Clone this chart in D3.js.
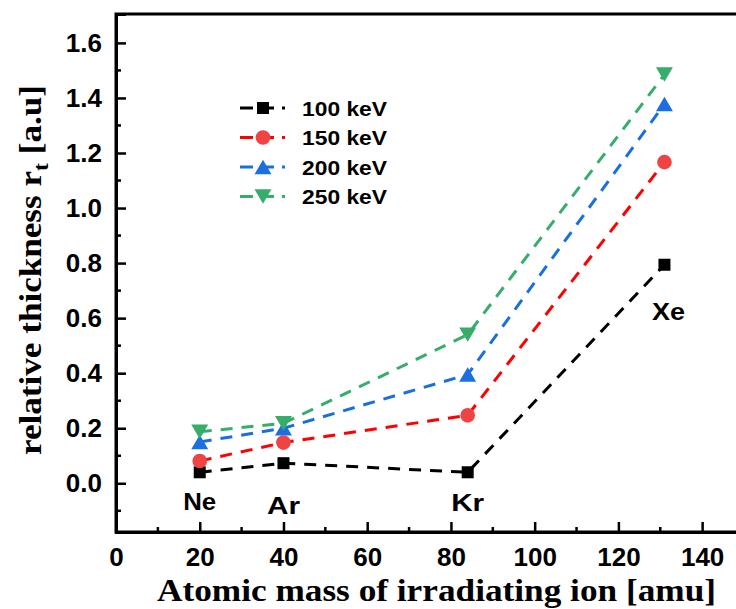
<!DOCTYPE html>
<html>
<head>
<meta charset="utf-8">
<script src="https://cdn.jsdelivr.net/npm/d3@7"></script>
<style>
  body { margin: 0; background: #fff; }
  svg { display: block; }
  .lbl { font-family: 'Liberation Sans', Arial, sans-serif; font-weight: bold; }
</style>
</head>
<body>
<svg id="chart"></svg>
<script>
// data
const ionNames = ['Ne', 'Ar', 'Kr', 'Xe']
const ionMass = [20, 40, 84, 131]
const energies = ['100 keV', '150 keV', '200 keV', '250 keV']
const values100 = [0.04, 0.073, 0.04, 0.794]
const values150 = [0.081, 0.148, 0.247, 1.167]
const values200 = [0.15, 0.2, 0.395, 1.378]
const values250 = [0.187, 0.218, 0.54, 1.485]
const xTicks = [0, 20, 40, 60, 80, 100, 120, 140]
const yTicks = [0.0, 0.2, 0.4, 0.6, 0.8, 1.0, 1.2, 1.4, 1.6]

const width = 736
const height = 609
const margin = {left: 116, top: 14, right: -8, bottom: 77}
const plotW = width - margin.left - margin.right
const plotH = height - margin.top - margin.bottom

// triangle centred on its bounding box (as the reference draws it)
const triUp = {
  draw (context, size) {
    const w = Math.sqrt(size) * 1.5
    const h = w * 0.85
    context.moveTo(0, -h / 2)
    context.lineTo(w / 2, h / 2)
    context.lineTo(-w / 2, h / 2)
    context.closePath()
  }
}

const series = [
  {name: energies[0], values: values100, line: '#000000', fill: '#000000', symbol: d3.symbolSquare, size: 144, rot: 0},
  {name: energies[1], values: values150, line: '#ff0000', fill: '#f04444', symbol: d3.symbolCircle, size: 170, rot: 0},
  {name: energies[2], values: values200, line: '#1a6fdf', fill: '#1b6fe0', symbol: triUp, size: 128, rot: 0},
  {name: energies[3], values: values250, line: '#37ad6b', fill: '#37ad6b', symbol: triUp, size: 128, rot: 180}
]

const svg = d3.select('#chart')
  .attr('width', width)
  .attr('height', height)

const g = svg.append('g')
  .attr('transform', 'translate(' + margin.left + ',' + margin.top + ')')

const x = d3.scaleLinear()
  .domain([0, 150])
  .range([0, plotW])
const y = d3.scaleLinear()
  .domain([-0.177, 1.705])
  .range([plotH, 0])

// frame
g.append('rect')
  .attr('x', 0)
  .attr('y', 0)
  .attr('width', plotW)
  .attr('height', plotH)
  .attr('fill', 'none')
  .attr('stroke', '#000')
  .attr('stroke-width', 3)

// minor ticks
const xMinor = d3.range(10, 150, 20)
const yMinor = d3.range(-0.1, 1.7, 0.2)
g.append('g')
  .selectAll('line')
  .data(xMinor)
  .join('line')
  .attr('x1', (d) => x(d))
  .attr('x2', (d) => x(d))
  .attr('y1', plotH)
  .attr('y2', plotH - 5)
  .attr('stroke', '#000')
  .attr('stroke-width', 2.5)
g.append('g')
  .selectAll('line')
  .data(yMinor)
  .join('line')
  .attr('x1', 0)
  .attr('x2', 5)
  .attr('y1', (d) => y(d))
  .attr('y2', (d) => y(d))
  .attr('stroke', '#000')
  .attr('stroke-width', 2.5)

// axes
const xAxis = d3.axisBottom(x)
  .tickValues(xTicks)
  .tickSize(-10)
  .tickPadding(16)
  .tickFormat(d3.format('d'))
const xg = g.append('g')
  .attr('transform', 'translate(0,' + plotH + ')')
  .call(xAxis)
const yAxis = d3.axisLeft(y)
  .tickValues(yTicks)
  .tickSize(-10)
  .tickPadding(14)
  .tickFormat(d3.format('.1f'))
const yg = g.append('g')
  .call(yAxis)
for (const ax of [xg, yg]) {
  ax.attr('font-size', null).attr('font-family', null)
  ax.select('path.domain').attr('stroke-width', 3)
  ax.selectAll('.tick line').attr('stroke-width', 2.5)
  ax.selectAll('.tick text')
    .attr('class', 'lbl')
    .attr('fill', '#000')
    .style('font-size', '26px')
}

// series lines
const line = d3.line()
  .x((d, i) => x(ionMass[i]))
  .y((d) => y(d))
series.forEach((s) => {
  g.append('path')
    .datum(s.values)
    .attr('d', line)
    .attr('fill', 'none')
    .attr('stroke', s.line)
    .attr('stroke-width', 3)
    .attr('stroke-dasharray', '12,9')
})
series.forEach((s) => {
  g.append('g')
    .selectAll('path')
    .data(s.values)
    .join('path')
    .attr('d', d3.symbol().type(s.symbol).size(s.size))
    .attr('transform', (d, i) => 'translate(' + x(ionMass[i]) + ',' + y(d) + ') rotate(' + s.rot + ')')
    .attr('fill', s.fill)
})

// ion labels
const labelPos = [
  {dx: 0, value: 0, dy: 27},
  {dx: 0, value: 0, dy: 31},
  {dx: 0, value: 0, dy: 28},
  {dx: 4, value: values100[3], dy: 55}
]
g.append('g')
  .selectAll('text')
  .data(ionNames)
  .join('text')
  .attr('class', 'lbl')
  .attr('text-anchor', 'middle')
  .attr('x', (d, i) => x(ionMass[i]) + labelPos[i].dx)
  .attr('y', (d, i) => y(labelPos[i].value) + labelPos[i].dy)
  .style('font-size', '24px')
  .attr('textLength', 33)
  .attr('lengthAdjust', 'spacingAndGlyphs')
  .text((d) => d)

// legend
const legend = g.append('g')
  .attr('transform', 'translate(124,94)')
series.forEach((s, i) => {
  const row = legend.append('g')
    .attr('transform', 'translate(0,' + (i * 29.5) + ')')
  row.append('line')
    .attr('x1', 0)
    .attr('x2', 45)
    .attr('stroke', s.line)
    .attr('stroke-width', 3)
    .attr('stroke-dasharray', '13,8')
  row.append('path')
    .attr('d', d3.symbol().type(s.symbol).size(s.size))
    .attr('transform', 'translate(23,0) rotate(' + s.rot + ')')
    .attr('fill', s.fill)
  row.append('text')
    .attr('class', 'lbl')
    .attr('x', 62)
    .attr('y', 7.5)
    .style('font-size', '20px')
    .attr('textLength', 85)
    .attr('lengthAdjust', 'spacingAndGlyphs')
    .text(s.name)
})

// axis titles
svg.append('text')
  .attr('x', 436.5)
  .attr('y', 601)
  .attr('text-anchor', 'middle')
  .style('font-family', "'Liberation Serif', 'Times New Roman', serif")
  .style('font-weight', 'bold')
  .style('font-size', '32px')
  .attr('textLength', 559)
  .attr('lengthAdjust', 'spacingAndGlyphs')
  .text('Atomic mass of irradiating ion [amu]')

const yt = svg.append('text')
  .attr('transform', 'translate(41,270) rotate(-90)')
  .attr('text-anchor', 'middle')
  .style('font-family', "'Liberation Serif', 'Times New Roman', serif")
  .style('font-weight', 'bold')
  .style('font-size', '31px')
  .attr('textLength', 370)
  .attr('lengthAdjust', 'spacingAndGlyphs')
yt.append('tspan').text('relative thickness r')
yt.append('tspan').attr('dy', 7).style('font-size', '21px').text('t')
yt.append('tspan').attr('dy', -7).text(' [a.u]')
</script>
</body>
</html>
